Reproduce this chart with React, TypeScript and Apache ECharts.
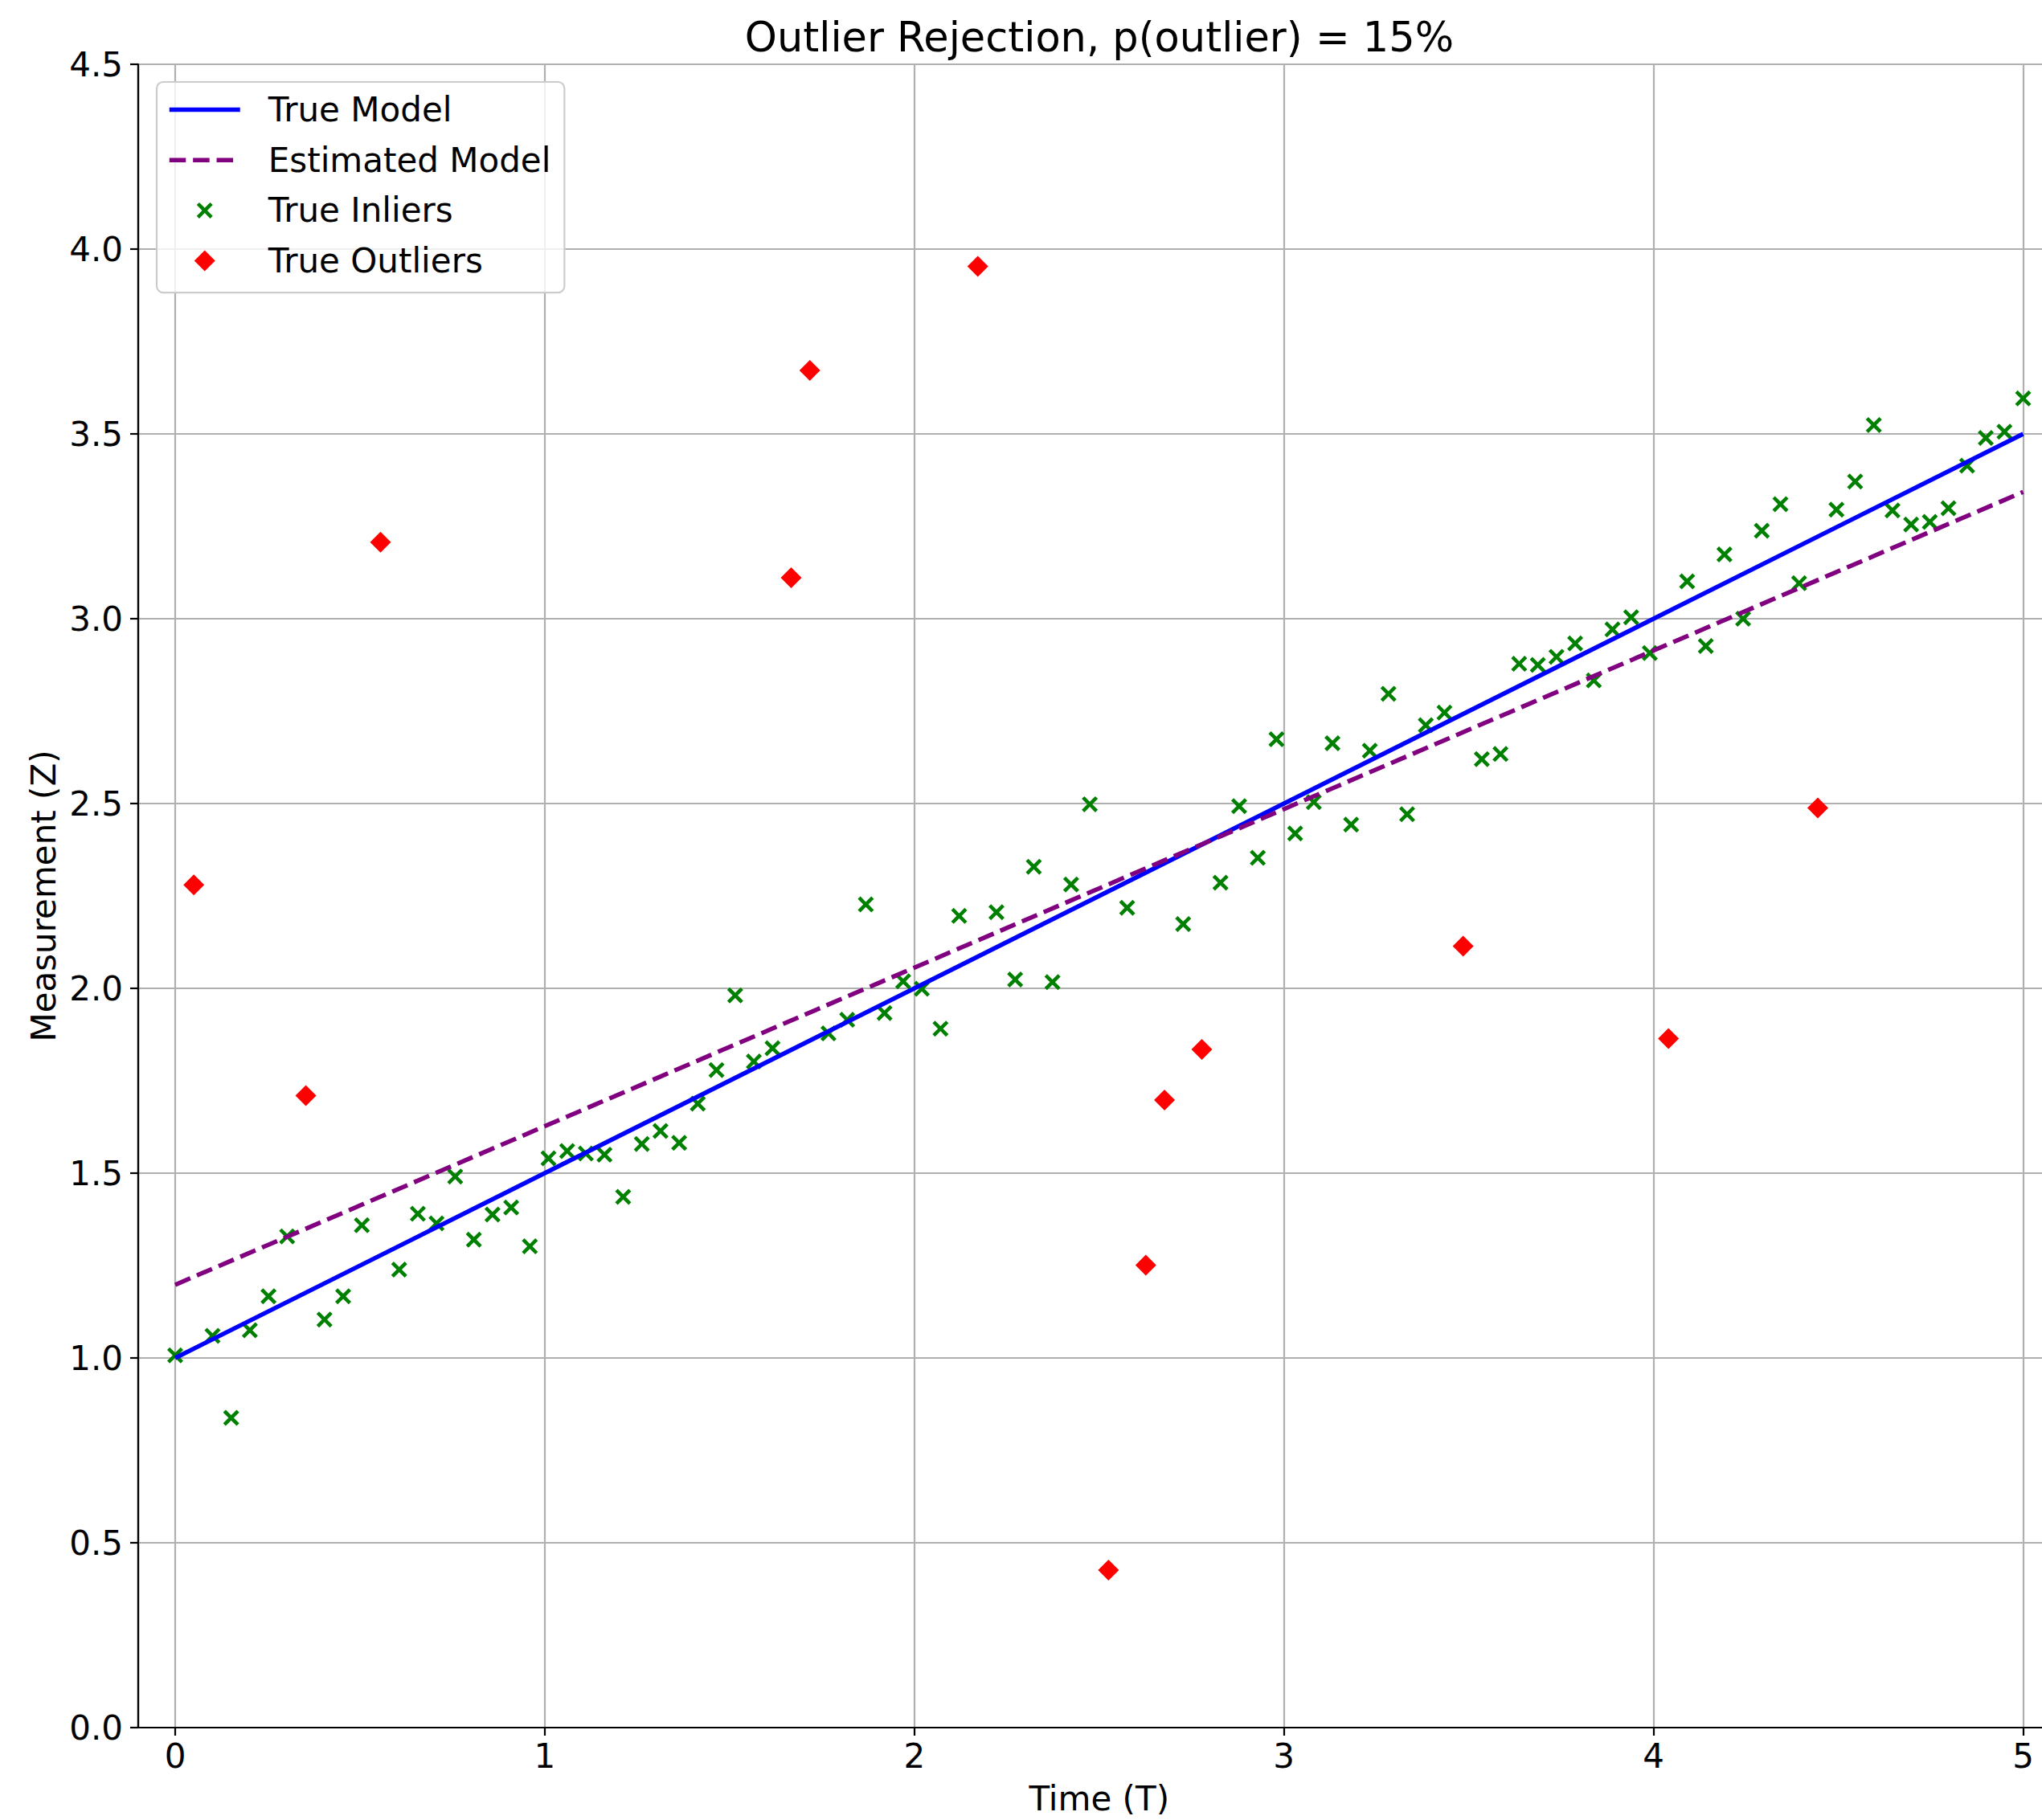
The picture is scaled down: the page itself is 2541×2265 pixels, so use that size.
import React, { useEffect, useRef } from "react";
import * as echarts from "echarts";

const inlierT = [
  0, 0.101, 0.1515, 0.202, 0.2525, 0.303, 0.404, 0.4545, 0.5051, 0.6061,
  0.6566, 0.7071, 0.7576, 0.8081, 0.8586, 0.9091, 0.9596, 1.0101, 1.0606, 1.1111,
  1.1616, 1.2121, 1.2626, 1.3131, 1.3636, 1.4141, 1.4646, 1.5152, 1.5657, 1.6162,
  1.7677, 1.8182, 1.8687, 1.9192, 1.9697, 2.0202, 2.0707, 2.1212, 2.2222, 2.2727,
  2.3232, 2.3737, 2.4242, 2.4747, 2.5758, 2.7273, 2.8283, 2.8788, 2.9293, 2.9798,
  3.0303, 3.0808, 3.1313, 3.1818, 3.2323, 3.2828, 3.3333, 3.3838, 3.4343, 3.5354,
  3.5859, 3.6364, 3.6869, 3.7374, 3.7879, 3.8384, 3.8889, 3.9394, 3.9899, 4.0909,
  4.1414, 4.1919, 4.2424, 4.2929, 4.3434, 4.3939, 4.4949, 4.5455, 4.596, 4.6465,
  4.697, 4.7475, 4.798, 4.8485, 4.899, 4.9495, 5.0,
];
const inlierZ = [
  1.007, 1.06, 0.838, 1.075, 1.167, 1.329, 1.104, 1.167, 1.359, 1.239,
  1.39, 1.364, 1.491, 1.32, 1.388, 1.407, 1.302, 1.54, 1.56, 1.553,
  1.55, 1.436, 1.579, 1.614, 1.582, 1.688, 1.779, 1.981, 1.802, 1.838,
  1.878, 1.915, 2.227, 1.933, 2.019, 1.999, 1.891, 2.196, 2.206, 2.024,
  2.329, 2.017, 2.281, 2.498, 2.218, 2.174, 2.286, 2.493, 2.353, 2.674,
  2.419, 2.504, 2.663, 2.443, 2.643, 2.797, 2.471, 2.712, 2.746, 2.62,
  2.634, 2.878, 2.875, 2.897, 2.933, 2.833, 2.971, 3.004, 2.907, 3.101,
  2.926, 3.174, 3.0, 3.238, 3.31, 3.096, 3.295, 3.371, 3.524, 3.293,
  3.255, 3.262, 3.299, 3.414, 3.489, 3.506, 3.596,
];
const outlierT = [0.0505, 0.3535, 0.5556, 1.6667, 1.7172, 2.1717, 2.5253, 2.6263, 2.6768, 2.7778, 3.4848, 4.0404, 4.4444];
const outlierZ = [2.28, 1.71, 3.207, 3.111, 3.672, 3.953, 0.426, 1.251, 1.698, 1.835, 2.114, 1.864, 2.488];
const modelT = [0, 5];
const trueModelZ = [1.0, 3.5];
const estModelZ = [1.198, 3.343];
const xTicks = [0, 1, 2, 3, 4, 5];
const seriesNames = ["True Model", "Estimated Model", "True Inliers", "True Outliers"];
const titleText = "Outlier Rejection, p(outlier) = 15%";
const xName = "Time (T)";
const yName = "Measurement (Z)";

const FONT = "DejaVu Sans";
const X_SYMBOL =
  "path://M-3,-3M23,23M0,3.2L3.2,0L10,6.8L16.8,0L20,3.2L13.2,10L20,16.8L16.8,20L10,13.2L3.2,20L0,16.8L6.8,10Z";
const D_SYMBOL = "path://M10,0L20,10L10,20L0,10Z";
const LINE_W = 5.5;

export default function App() {
  const ref = useRef<HTMLDivElement>(null);
  useEffect(() => {
    if (!ref.current) return;
    const chart = echarts.init(ref.current, null, { renderer: "svg" });
    const zip = (a: number[], b: number[]) => a.map((v, i) => [v, b[i]]);
    chart.setOption({
      animation: false,
      backgroundColor: "#ffffff",
      title: {
        text: titleText,
        left: 1368,
        top: 21,
        padding: 0,
        textAlign: "center",
        textStyle: { fontFamily: FONT, fontSize: 51, fontWeight: "normal", color: "#000" },
      },
      legend: {
        orient: "vertical",
        left: 195,
        top: 102,
        padding: [12.5, 17, 17.5, 13],
        itemGap: 18.7,
        itemWidth: 88,
        itemHeight: 26,
        backgroundColor: "rgba(255,255,255,0.8)",
        borderColor: "#cccccc",
        borderWidth: 2.2,
        borderRadius: 8,
        selectedMode: false,
        lineStyle: { width: LINE_W },
        textStyle: { fontFamily: FONT, fontSize: 42, color: "#000", lineHeight: 44, padding: [0, 0, 0, 30] },
        data: [
          { name: seriesNames[0], itemStyle: { opacity: 0, color: "transparent", borderWidth: 0 }, lineStyle: { width: LINE_W, opacity: 1 } },
          { name: seriesNames[1], itemStyle: { opacity: 0, color: "transparent", borderWidth: 0 }, lineStyle: { width: LINE_W, opacity: 1 } },
          { name: seriesNames[2] },
          { name: seriesNames[3] },
        ],
      },
      grid: {
        left: 172,
        top: 80,
        right: -22.5,
        bottom: 115,
        show: true,
        borderColor: "#000",
        borderWidth: 2.2,
        backgroundColor: "transparent",
        containLabel: false,
        outerBoundsMode: "none",
      },
      xAxis: {
        type: "value",
        min: -0.1,
        max: 5.1,
        name: xName,
        nameLocation: "middle",
        nameGap: 67,
        nameTextStyle: { fontFamily: FONT, fontSize: 42, color: "#000" },
        axisLine: { show: true, onZero: false, lineStyle: { color: "#000", width: 2.2 } },
        axisTick: { show: true, length: 10, lineStyle: { color: "#000", width: 2.2 }, customValues: xTicks },
        axisLabel: {
          fontFamily: FONT,
          fontSize: 42,
          color: "#000",
          margin: 14,
          customValues: xTicks,
          formatter: (v: number) => String(v),
        },
        splitLine: { show: true, lineStyle: { color: "#b0b0b0", width: 2.2 } },
      },
      yAxis: {
        type: "value",
        min: 0,
        max: 4.5,
        interval: 0.5,
        name: yName,
        nameLocation: "middle",
        nameGap: 97,
        nameTextStyle: { fontFamily: FONT, fontSize: 42, color: "#000" },
        axisLine: { show: true, onZero: false, lineStyle: { color: "#000", width: 2.2 } },
        axisTick: { show: true, length: 10, lineStyle: { color: "#000", width: 2.2 } },
        axisLabel: {
          fontFamily: FONT,
          fontSize: 42,
          color: "#000",
          margin: 19,
          formatter: (v: number) => v.toFixed(1),
        },
        splitLine: { show: true, lineStyle: { color: "#b0b0b0", width: 2.2 } },
      },
      series: [
        {
          name: seriesNames[0],
          type: "line",
          data: zip(modelT, trueModelZ),
          symbol: "none",
          showSymbol: false,
          lineStyle: { color: "#0000ff", width: LINE_W },
          itemStyle: { color: "#0000ff" },
        },
        {
          name: seriesNames[1],
          type: "line",
          data: zip(modelT, estModelZ),
          symbol: "none",
          showSymbol: false,
          lineStyle: { color: "#800080", width: LINE_W, type: [20.5, 8.9] },
          itemStyle: { color: "#800080" },
        },
        {
          name: seriesNames[2],
          type: "scatter",
          data: zip(inlierT, inlierZ),
          symbol: X_SYMBOL,
          symbolSize: 26,
          itemStyle: { color: "#008000", opacity: 1 },
        },
        {
          name: seriesNames[3],
          type: "scatter",
          data: zip(outlierT, outlierZ),
          symbol: D_SYMBOL,
          symbolSize: 26,
          itemStyle: { color: "#ff0000", opacity: 1 },
        },
      ],
    });
    return () => chart.dispose();
  }, []);
  return (
    <div
      ref={ref}
      style={{ position: "absolute", left: 0, top: 0, width: 2541, height: 2265, overflow: "hidden" }}
    />
  );
}
